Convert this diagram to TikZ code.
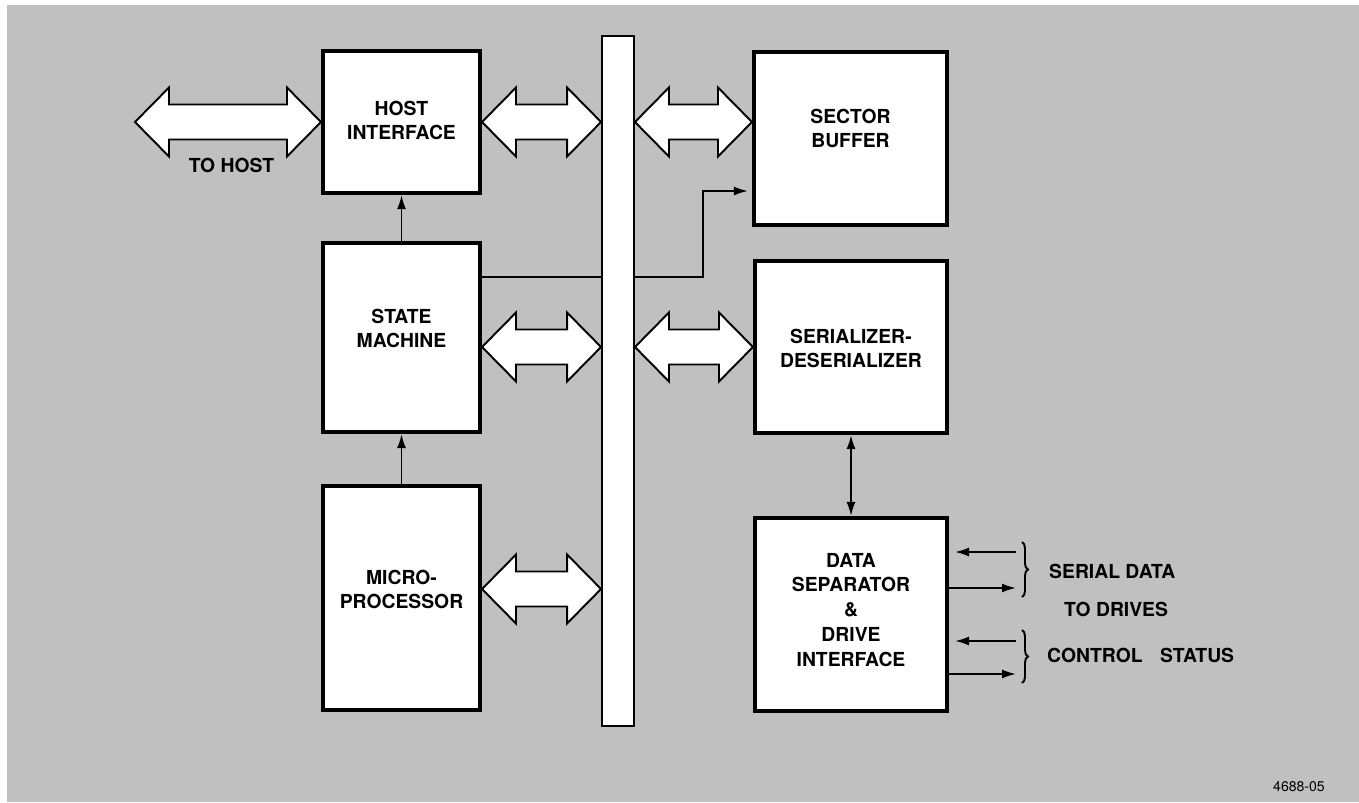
\documentclass[tikz,border=0pt]{standalone}
\usepackage{fontspec}
\setmainfont{TeX Gyre Heros}
\usepackage{xcolor}
\usepackage{tikz}
\usetikzlibrary{arrows.meta, calc, decorations.pathreplacing}
\definecolor{screengray}{RGB}{192,192,192}

% wide outlined double arrow between two points at the same height
\newcommand{\widearrow}[2]{%
  \draw[widearrow] let \p1=#1, \p2=#2 in
    (\x1,\y1) -- (\x1+0.68cm,\y1+0.69cm) -- (\x1+0.68cm,\y1+0.35cm)
    -- (\x2-0.68cm,\y1+0.35cm) -- (\x2-0.68cm,\y1+0.69cm) -- (\x2,\y1)
    -- (\x2-0.68cm,\y1-0.69cm) -- (\x2-0.68cm,\y1-0.35cm)
    -- (\x1+0.68cm,\y1-0.35cm) -- (\x1+0.68cm,\y1-0.69cm) -- cycle;}

\begin{document}
\begin{tikzpicture}[
    unitbox/.style={rectangle, draw=black, fill=white, line width=2.3pt,
          inner sep=0pt, minimum width=3.14cm},
    boxtext/.style={align=center, font=\fontsize{11}{13.6}\selectfont\bfseries},
    sidetext/.style={anchor=west, font=\fontsize{11}{13.6}\selectfont\bfseries},
    widearrow/.style={draw=black, fill=white, line width=1.1pt, line join=miter},
    thinarrow/.style={line width=1.1pt, -{Latex[length=0.28cm,width=0.18cm]}},
    sidebrace/.style={line width=1.1pt, decorate, decoration={brace, amplitude=0.12cm}}
  ]
    \useasboundingbox (0,0) rectangle (27.18,-16.04);
    % Screened background
    \fill[screengray] (0.14,-0.10) rectangle (27.18,-16.04);

    % Left column
    \node[unitbox, minimum height=2.84cm] (host) at (8.03,-2.44) {};
    \node[boxtext] (hostT) at (8.03,-2.40) {HOST\\INTERFACE};
    \node[unitbox, minimum height=3.78cm] (state) at (8.03,-6.75) {};
    \node[boxtext] (stateT) at (8.03,-6.56) {STATE\\MACHINE};
    \node[unitbox, minimum height=4.48cm] (micro) at (8.03,-11.96) {};
    \node[boxtext] (microT) at (8.03,-11.78) {MICRO-\\PROCESSOR};

    % Right column
    \node[unitbox, minimum width=3.86cm, minimum height=3.46cm] (sector) at (17.01,-2.77) {};
    \node[boxtext] (sectorT) at (17.01,-2.56) {SECTOR\\BUFFER};
    \node[unitbox, minimum width=3.84cm, minimum height=3.44cm] (serdes) at (17.02,-6.94) {};
    \node[boxtext] (serdesT) at (17.02,-6.96) {SERIALIZER-\\DESERIALIZER};
    \node[unitbox, minimum width=3.84cm, minimum height=3.86cm] (datasep) at (17.02,-12.29) {};
    \node[boxtext, font=\fontsize{11}{14.2}\selectfont\bfseries] (datasepT) at (17.02,-12.20)
        {DATA\\SEPARATOR\\\&\\DRIVE\\INTERFACE};

    % Line from state machine to sector buffer (passes under the bus)
    \coordinate (tap) at (14.06,-5.54);
    \coordinate (bend) at (14.06,-3.82);
    \draw[thinarrow, shorten >=0.08cm] (state.east |- tap) -- (tap) -- (bend) -- (sector.west |- bend);

    % Bus
    \node[rectangle, draw=black, fill=white, line width=1.1pt, inner sep=0pt,
          minimum width=0.64cm, minimum height=13.8cm] (bus) at (12.36,-7.62) {};

    % Wide arrows
    \coordinate (hostend) at (2.70,-2.44);
    \widearrow{(hostend)}{(host.west)}
    \widearrow{(host.east)}{(bus.west |- host.east)}
    \widearrow{(bus.east |- host.east)}{(sector.west |- host.east)}
    \widearrow{(state.east |- serdes.west)}{(bus.west |- serdes.west)}
    \widearrow{(bus.east |- serdes.west)}{(serdes.west)}
    \coordinate (cpulink) at ($(micro.east)+(0,0.18)$);
    \widearrow{(cpulink)}{(bus.west |- cpulink)}
    \node[sidetext, anchor=center] (tohost) at (4.63,-3.30) {TO HOST};

    % Thin arrows
    \draw[thinarrow] (state.north) -- (host.south);
    \draw[thinarrow] (micro.north) -- (state.south);
    \draw[thinarrow, {Latex[length=0.28cm,width=0.18cm]}-{Latex[length=0.28cm,width=0.18cm]}]
        (serdes.south) -- (datasep.north);

    % Drive side
    \coordinate (sd1) at (20.32,-11.04);
    \coordinate (sd2) at (20.32,-11.76);
    \coordinate (sd3) at (20.32,-12.82);
    \coordinate (sd4) at (20.32,-13.48);
    \draw[thinarrow, shorten >=0.12cm] (sd1) -- (datasep.east |- sd1);
    \draw[thinarrow] (datasep.east |- sd2) -- (sd2);
    \draw[thinarrow, shorten >=0.12cm] (sd3) -- (datasep.east |- sd3);
    \draw[thinarrow] (datasep.east |- sd4) -- (sd4);
    \draw[sidebrace] (20.44,-10.84) -- (20.44,-11.94);
    \draw[sidebrace] (20.44,-12.60) -- (20.44,-13.66);
    \node[sidetext] (serialT) at (20.86,-11.42) {SERIAL DATA};
    \node[sidetext] (drivesT) at (21.16,-12.18) {TO DRIVES};
    \node[sidetext] (ctrlT) at (20.82,-13.10) {CONTROL\hspace{0.35cm}STATUS};

    % Figure number
    \node[font=\fontsize{8}{9}\selectfont] (fignum) at (25.98,-15.74) {4688-05};
\end{tikzpicture}
\end{document}
